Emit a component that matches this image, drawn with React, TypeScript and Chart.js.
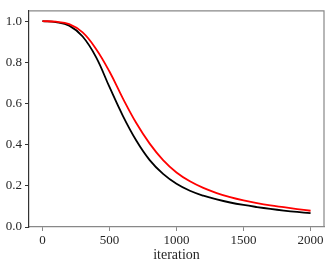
import React, { useEffect, useRef } from "react";
import { Chart, registerables } from "chart.js";

Chart.register(...registerables);

const iterations = [0, 100, 200, 300, 400, 500, 600, 700, 800, 900, 1000, 1100, 1200, 1300, 1400, 1500, 1600, 1700, 1800, 1900, 2000];
const blackSeries = [1.0, 0.995, 0.978, 0.925, 0.825, 0.68, 0.54, 0.42, 0.325, 0.258, 0.21, 0.176, 0.152, 0.134, 0.119, 0.107, 0.097, 0.088, 0.08, 0.073, 0.067];
const redSeries = [1.0, 0.997, 0.985, 0.945, 0.865, 0.755, 0.625, 0.505, 0.405, 0.325, 0.265, 0.222, 0.19, 0.165, 0.145, 0.129, 0.116, 0.105, 0.096, 0.087, 0.079];
const xTicks = [0, 500, 1000, 1500, 2000];
const yTicks = [0, 0.2, 0.4, 0.6, 0.8, 1.0];
const xTitle = "iteration";

const FONT = "'Liberation Serif', 'DejaVu Serif', serif";

const framePlugin = {
  id: "frame",
  afterDraw(chart: any) {
    const { ctx, chartArea } = chart;
    ctx.save();
    ctx.strokeStyle = "#888888";
    ctx.lineWidth = 1.2;
    ctx.beginPath();
    ctx.moveTo(chartArea.left, chartArea.top);
    ctx.lineTo(chartArea.right, chartArea.top);
    ctx.lineTo(chartArea.right, chartArea.bottom);
    ctx.stroke();
    ctx.restore();
  },
};

export default function App() {
  const ref = useRef<HTMLCanvasElement>(null);
  useEffect(() => {
    document.body.style.margin = "0";
    const canvas = ref.current!;
    const chart = new Chart(canvas, {
      type: "line",
      data: {
        datasets: [
          {
            data: iterations.map((x, i) => ({ x, y: redSeries[i] })),
            borderColor: "#ff0000",
            borderWidth: 1.8,
            pointRadius: 0,
            tension: 0.4,
            fill: false,
          },
          {
            data: iterations.map((x, i) => ({ x, y: blackSeries[i] })),
            borderColor: "#000000",
            borderWidth: 1.8,
            pointRadius: 0,
            tension: 0.4,
            fill: false,
          },
        ],
      },
      options: {
        responsive: false,
        animation: false,
        layout: { padding: { top: 6, right: 8, left: 0, bottom: 0 } },
        plugins: { legend: { display: false }, tooltip: { enabled: false } },
        scales: {
          x: {
            type: "linear",
            min: -100,
            max: 2100,
            afterBuildTicks: (s: any) => {
              s.ticks = xTicks.map((v) => ({ value: v }));
            },
            afterFit: (s: any) => {
              s.height = 42;
            },
            ticks: {
              font: { family: FONT, size: 13 },
              color: "#262626",
              padding: 2,
              maxRotation: 0,
              callback: (v: any) => String(v),
            },
            grid: { display: true, drawOnChartArea: false, drawTicks: true, tickLength: 4, tickColor: "#888888", tickWidth: 1 },
            border: { display: true, color: "#888888", width: 1.2 },
            title: {
              display: true,
              text: xTitle,
              font: { family: FONT, size: 14 },
              color: "#262626",
              padding: { top: 0, bottom: 5 },
            },
          },
          y: {
            type: "linear",
            min: 0,
            max: 1.05,
            afterBuildTicks: (s: any) => {
              s.ticks = yTicks.map((v) => ({ value: v }));
            },
            afterFit: (s: any) => {
              s.width = 29;
            },
            ticks: {
              font: { family: FONT, size: 13 },
              color: "#262626",
              padding: 3,
              callback: (v: any) => Number(v).toFixed(1),
            },
            grid: { display: true, drawOnChartArea: false, drawTicks: true, tickLength: 4, tickColor: "#333333", tickWidth: 1 },
            border: { display: true, color: "#333333", width: 1.2 },
          },
        },
      },
      plugins: [framePlugin],
    });
    return () => chart.destroy();
  }, []);
  return <canvas ref={ref} width={332} height={269} style={{ display: "block" }} />;
}
